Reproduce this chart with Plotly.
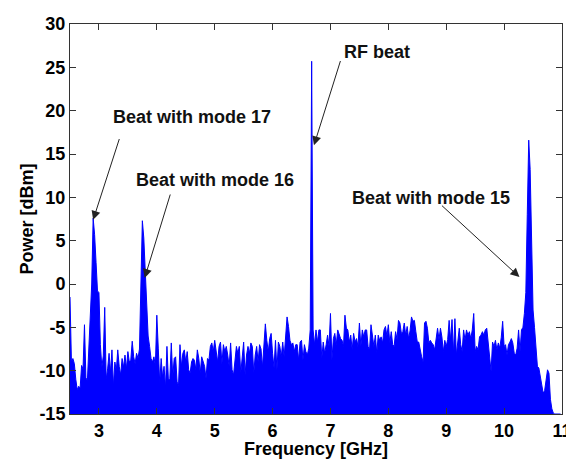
import numpy as np
import plotly.graph_objects as go

# Frequency grid (GHz): 2.5 .. 10.975 in 0.025 GHz steps
F_START = 2.5
F_STEP = 0.025

# Measured power (dBm), 4 samples per 0.1 GHz row
power_dbm = [
    -1.5, -9.0, -8.6, -9.2,     # 2.5
    -11.0, -12.2, -11.8, -12.0, # 2.6
    -9.4, -9.8, -4.7, -10.8,    # 2.7
    -11.2, -8.0, -4.2, 0.0,     # 2.8
    7.6, 5.7, 2.5, -0.8,        # 2.9
    -1.0, -7.0, -9.6, -8.3,     # 3.0
    -2.7, -11.0, -9.8, -8.0,    # 3.1
    -10.2, -7.6, -11.8, -9.0,   # 3.2
    -10.0, -7.6, -9.5, -10.5,   # 3.3
    -8.6, -9.6, -8.2, -9.8,     # 3.4
    -7.8, -9.0, -8.8, -6.6,     # 3.5
    -8.4, -9.2, -8.0, -8.6,     # 3.6
    -7.5, -1.0, 7.3, 5.3,       # 3.7
    1.0, -3.3, -6.0, -7.2,      # 3.8
    -8.6, -9.0, -8.4, -9.4,     # 3.9
    -3.6, -7.4, -11.4, -8.6,    # 4.0
    -10.8, -9.5, -12.0, -7.2,   # 4.1
    -11.1, -10.9, -6.8, -10.7,  # 4.2
    -8.6, -8.4, -11.3, -11.7,   # 4.3
    -7.0, -9.5, -8.0, -7.6,     # 4.4
    -9.0, -7.8, -9.9, -10.3,    # 4.5
    -9.0, -8.6, -8.8, -9.9,     # 4.6
    -7.6, -8.6, -10.3, -8.4,    # 4.7
    -9.0, -9.5, -10.9, -8.6,    # 4.8
    -8.8, -7.2, -6.8, -7.8,     # 4.9
    -6.5, -7.6, -9.0, -7.2,     # 5.0
    -6.7, -9.2, -7.0, -7.8,     # 5.1
    -7.2, -8.2, -9.5, -6.8,     # 5.2
    -9.9, -10.5, -8.8, -7.2,    # 5.3
    -8.0, -7.2, -10.3, -8.8,    # 5.4
    -6.7, -10.5, -8.2, -7.2,    # 5.5
    -8.0, -6.8, -7.2, -10.3,    # 5.6
    -8.2, -7.2, -9.0, -7.0,     # 5.7
    -7.5, -9.6, -6.6, -4.6,     # 5.8
    -6.5, -7.8, -6.3, -5.7,     # 5.9
    -8.0, -9.7, -6.5, -9.9,     # 6.0
    -6.7, -7.2, -8.4, -6.7,     # 6.1
    -8.4, -6.0, -3.8, -4.9,     # 6.2
    -6.5, -7.0, -6.8, -7.8,     # 6.3
    -7.0, -7.0, -8.8, -6.7,     # 6.4
    -6.5, -8.8, -7.0, -7.8,     # 6.5
    -8.2, -7.4, -5.3, 25.7,     # 6.6
    -5.3, -7.0, -5.3, -6.7,     # 6.7
    -5.3, -5.3, -8.6, -6.7,     # 6.8
    -8.0, -7.0, -5.9, -7.2,     # 6.9
    -3.4, -8.8, -6.3, -5.7,     # 7.0
    -7.0, -5.3, -5.9, -6.3,     # 7.1
    -6.5, -7.2, -3.6, -5.1,     # 7.2
    -5.3, -6.7, -5.9, -7.6,     # 7.3
    -5.7, -6.7, -6.3, -7.2,     # 7.4
    -4.5, -7.2, -5.3, -6.1,     # 7.5
    -5.3, -5.3, -7.2, -7.6,     # 7.6
    -4.7, -6.0, -7.2, -5.9,     # 7.7
    -8.0, -5.9, -6.5, -6.1,     # 7.8
    -6.8, -5.3, -4.9, -6.0,     # 7.9
    -4.7, -6.8, -5.5, -7.0,     # 8.0
    -7.2, -5.5, -6.4, -4.2,     # 8.1
    -4.5, -5.7, -5.5, -4.5,     # 8.2
    -5.9, -4.9, -6.3, -5.4,     # 8.3
    -3.8, -4.3, -4.2, -5.5,     # 8.4
    -6.7, -6.7, -7.8, -8.4,     # 8.5
    -9.0, -4.5, -4.3, -5.1,     # 8.6
    -6.8, -6.5, -6.8, -7.0,     # 8.7
    -7.6, -6.1, -5.1, -6.4,     # 8.8
    -5.1, -6.1, -7.8, -6.5,     # 8.9
    -7.2, -6.4, -4.2, -6.5,     # 9.0
    -4.1, -8.0, -4.0, -8.2,     # 9.1
    -6.3, -5.1, -7.0, -7.8,     # 9.2
    -5.3, -6.5, -5.3, -5.9,     # 9.3
    -5.5, -6.3, -5.3, -3.4,     # 9.4
    -7.8, -7.2, -7.6, -6.1,     # 9.5
    -5.9, -5.5, -5.9, -5.3,     # 9.6
    -5.1, -6.6, -8.0, -10.1,    # 9.7
    -6.7, -7.2, -6.5, -7.6,     # 9.8
    -6.8, -7.4, -6.2, -4.3,     # 9.9
    -7.2, -7.0, -8.2, -7.0,     # 10.0
    -6.7, -6.3, -6.8, -8.0,     # 10.1
    -8.2, -7.4, -5.3, -7.8,     # 10.2
    -5.3, -5.0, -3.4, -1.0,     # 10.3
    8.0, 16.6, 13.2, 4.0,       # 10.4
    -3.0, -5.0, -7.0, -9.5,     # 10.5
    -9.7, -10.8, -11.4, -12.6,  # 10.6
    -12.3, -11.0, -9.9, -10.3,  # 10.7
    -13.3, -14.4, -14.9, -15.0, # 10.8
    -15.0, -15.0, -15.0, -15.0, # 10.9
]
freq_ghz = F_START + F_STEP * np.arange(len(power_dbm))

# Axis settings
X_RANGE = [2.5, 11.0]
Y_RANGE = [-15, 30]
x_ticks = [3, 4, 5, 6, 7, 8, 9, 10, 11]
y_ticks = [-15, -10, -5, 0, 5, 10, 15, 20, 25, 30]
y_tick_text = ["-15", "-10", "-5", "0", "5", "10", "15", "20", "25", "30"]

# Annotations: label, label position, arrow tail, arrow head (data coords)
labels = ["Beat with mode 17", "Beat with mode 16", "RF beat", "Beat with mode 15"]
label_pos = [(4.60, 19.3), (5.01, 12.0), (7.81, 26.8), (8.74, 9.9)]
arrow_tail = [(3.36, 16.9), (4.24, 10.5), (7.18, 25.9), (8.90, 9.2)]
arrow_head = [(2.90, 7.4), (3.79, 0.7), (6.715, 16.0), (10.265, 0.8)]

BLUE = "#0000FF"
FONT = "Liberation Sans, Arial, sans-serif"

fig = go.Figure()
fig.add_trace(go.Scatter(
    x=[X_RANGE[0], X_RANGE[1]], y=[Y_RANGE[0], Y_RANGE[0]],
    mode="lines", line=dict(width=0, color=BLUE), showlegend=False, hoverinfo="skip"))
fig.add_trace(go.Scatter(
    x=freq_ghz, y=power_dbm, mode="lines",
    line=dict(color=BLUE, width=1), fill="tonexty", fillcolor=BLUE,
    showlegend=False))

for (lbl, (tx, ty), (ax0, ay0), (hx, hy)) in zip(labels, label_pos, arrow_tail, arrow_head):
    fig.add_annotation(x=tx, y=ty, text="<b>%s</b>" % lbl, showarrow=False,
                       font=dict(family=FONT, size=18, color="#111111"),
                       xanchor="center", yanchor="middle")
    fig.add_annotation(x=hx, y=hy, ax=ax0, ay=ay0, axref="x", ayref="y",
                       text="", showarrow=True, arrowhead=2, arrowsize=1.8,
                       arrowwidth=1, arrowcolor="#222222", standoff=0, startstandoff=0)

axis_common = dict(showline=True, linecolor="#333333", linewidth=1, mirror="allticks",
                   ticks="inside", ticklen=6, tickcolor="#333333", tickwidth=1,
                   showgrid=False, zeroline=False, automargin=False,
                   ticklabeloverflow="allow",
                   tickfont=dict(family=FONT, size=18, color="black", weight="bold"))

fig.update_xaxes(range=X_RANGE, tickvals=x_ticks, ticktext=[str(v) for v in x_ticks],
                 title=dict(text="<b>Frequency [GHz]</b>", standoff=0,
                            font=dict(family=FONT, size=18, color="black")),
                 **axis_common)
fig.update_yaxes(range=Y_RANGE, tickvals=y_ticks, ticktext=y_tick_text,
                 title=dict(text="<b>Power [dBm]</b>", standoff=1,
                            font=dict(family=FONT, size=18, color="black")),
                 **axis_common)
# The page adds an 8 px body margin, so the figure is sized to fit the window
fig.update_layout(
    width=566, height=451,
    margin=dict(l=62, r=12, t=16, b=45, autoexpand=False),
    paper_bgcolor="white", plot_bgcolor="white",
    font=dict(family=FONT, size=18, color="black"),
)

fig.write_html("out.html")
